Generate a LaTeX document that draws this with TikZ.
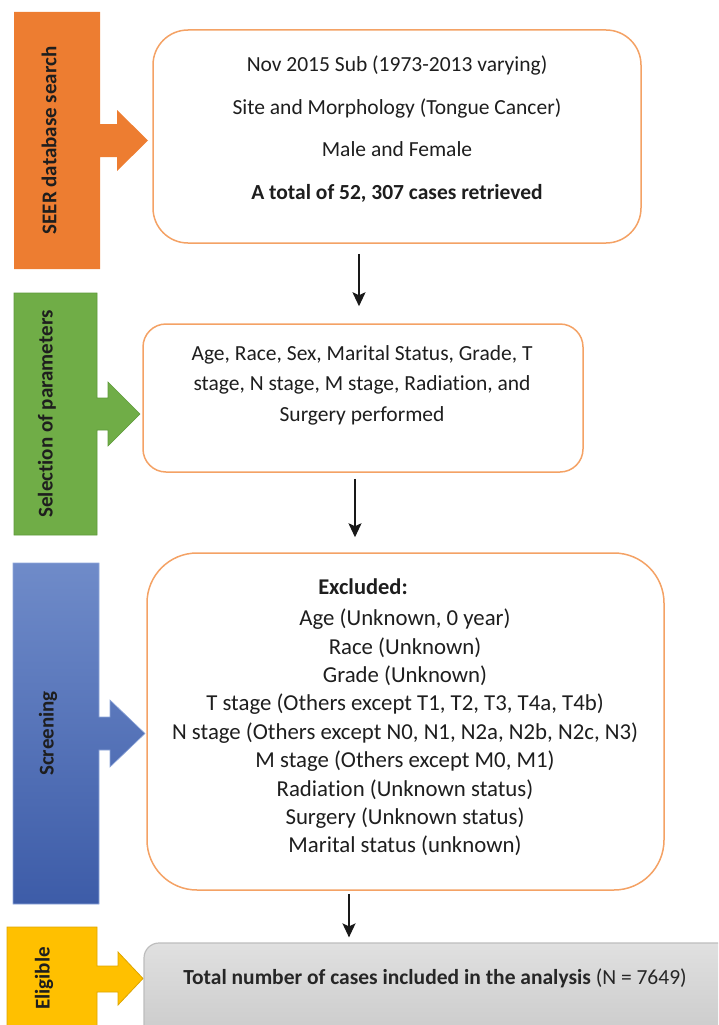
\documentclass[tikz,border=0pt]{standalone}
\usepackage{fontspec}
\setmainfont{Carlito}[Ligatures={NoCommon}]
\usetikzlibrary{arrows.meta}
\definecolor{seerorange}{HTML}{ED7D31}
\definecolor{paramgreen}{HTML}{70AD47}
\definecolor{paramgreenedge}{HTML}{5E9A3A}
\definecolor{screenblueA}{HTML}{6F8BC9}
\definecolor{screenblueB}{HTML}{3D5CA8}
\definecolor{screenedge}{HTML}{8FA7DA}
\definecolor{eligyellow}{HTML}{FFC000}
\definecolor{eligedge}{HTML}{DDA500}
\definecolor{boxline}{HTML}{F4A265}
\definecolor{inktext}{HTML}{1E1E1E}
\definecolor{grayA}{HTML}{E0E0E0}
\definecolor{grayB}{HTML}{C9C9C9}
\definecolor{grayedge}{HTML}{BDBDBD}
\begin{document}
\begin{tikzpicture}[x=1pt,y=-1pt,
  stagebox/.style={rectangle, draw=boxline, line width=1.5pt, fill=white,
    inner sep=0pt, rounded corners=#1},
  resultbox/.style={rectangle, draw=grayedge, line width=1.2pt,
    top color=grayA, bottom color=grayB, inner sep=0pt, rounded corners=15pt},
  boxtext/.style={align=center, text=inktext, inner sep=0pt},
  barlabel/.style={rotate=90, text=inktext, inner sep=0pt,
    font=\bfseries\fontsize{21}{25}\selectfont},
  flow/.style={draw=black!90, line width=1.9pt,
    -{Stealth[length=14pt,width=13pt,inset=3pt]}}
]
\useasboundingbox (0,0) rectangle (718,1025);
\clip (0,0) rectangle (718,1025);

% ---- coloured stage bars with their block arrows ----
\path[fill=seerorange]
  (14,12) -- (100,12) -- (100,124) -- (117,124) -- (117,110) -- (148,140.5)
  -- (117,171) -- (117,157) -- (100,157) -- (100,269) -- (14,269) -- cycle;
\node[barlabel] (lab1) at (49,140.5) {SEER database search};

\path[fill=paramgreen, draw=paramgreenedge, line width=0.6pt]
  (14,293) -- (97,293) -- (97,398) -- (108,398) -- (108,382) -- (140,414)
  -- (108,446) -- (108,430) -- (97,430) -- (97,535) -- (14,535) -- cycle;
\node[barlabel] (lab2) at (47,414) {Selection of parameters};

\shade[top color=screenblueA, bottom color=screenblueB, draw=screenedge, line width=0.6pt]
  (13,563) -- (99,563) -- (99,717) -- (110,717) -- (110,700) -- (145,733.5)
  -- (110,767) -- (110,750) -- (99,750) -- (99,904) -- (13,904) -- cycle;
\node[barlabel] (lab3) at (48,733.5) {Screening};

\path[fill=eligyellow, draw=eligedge, line width=0.8pt]
  (7,927) -- (97,927) -- (97,966) -- (118,966) -- (118,952) -- (143,978.5)
  -- (118,1005) -- (118,992) -- (97,992) -- (97,1040) -- (7,1040) -- cycle;
\node[barlabel] (lab4) at (44,978.5) {Eligible};

% ---- flow boxes ----
\node[stagebox=35pt, minimum width=488pt, minimum height=213pt] (b1) at (397,136.5) {};
\node[stagebox=23pt, minimum width=440pt, minimum height=148pt] (b2) at (363,398) {};
\node[stagebox=50pt, minimum width=517pt, minimum height=337pt] (b3) at (405.5,721.5) {};
\node[resultbox, minimum width=596pt, minimum height=102pt] (b4) at (442,994) {};

% ---- box contents ----
\node[boxtext, font=\fontsize{21.5}{42.7}\selectfont] (t1) at (397,129)
  {Nov 2015 Sub (1973-2013 varying)\\
   Site and Morphology (Tongue Cancer)\\
   Male and Female\\
   \textbf{A total of 52, 307 cases retrieved}};

\node[boxtext, font=\fontsize{21.5}{30.5}\selectfont] (t2) at (362,385)
  {Age, Race, Sex, Marital Status, Grade, T\\
   stage, N stage, M stage, Radiation, and\\
   Surgery performed};

\node[boxtext, font=\bfseries\fontsize{22.5}{26}\selectfont] (t3h) at (363,587) {Excluded:};
\node[boxtext, font=\fontsize{22.8}{28.4}\selectfont] (t3) at (405,732.5)
  {Age (Unknown, 0 year)\\
   Race (Unknown)\\
   Grade (Unknown)\\
   T stage (Others except T1, T2, T3, T4a, T4b)\\
   N stage (Others except N0, N1, N2a, N2b, N2c, N3)\\
   M stage (Others except M0, M1)\\
   Radiation (Unknown status)\\
   Surgery (Unknown status)\\
   Marital status (unknown)};

\node[boxtext, text=black!85, font=\fontsize{21.5}{25}\selectfont] (t4) at (435,978)
  {\textbf{Total number of cases included in the analysis} (N = 7649)};

% ---- connectors ----
\coordinate (x1) at (359,0);
\coordinate (x2) at (355,0);
\coordinate (x3) at (349,0);
\draw[flow, shorten <=10pt, shorten >=17pt] (b1.south -| x1) -- (b2.north -| x1);
\draw[flow, shorten <=6pt, shorten >=15pt] (b2.south -| x2) -- (b3.north -| x2);
\draw[flow, shorten <=3pt, shorten >=5pt] (b3.south -| x3) -- (b4.north -| x3);
\end{tikzpicture}
\end{document}
